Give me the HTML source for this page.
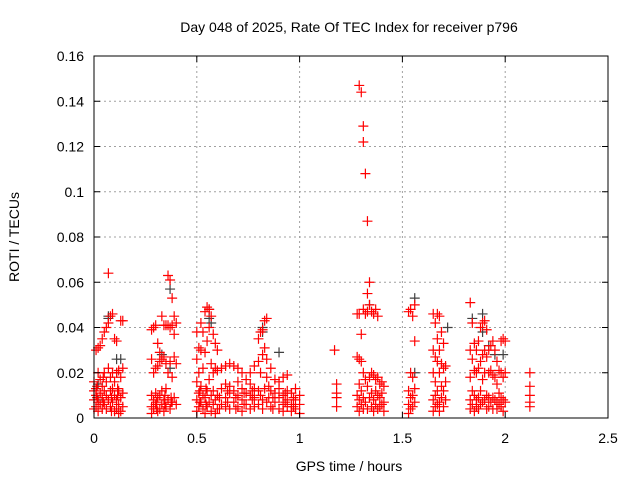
<!DOCTYPE html>
<html><head><meta charset="utf-8"><style>
body{margin:0;background:#fff}
svg{display:block;font-family:"Liberation Sans",sans-serif}
</style></head><body>
<svg id="c" width="640" height="480">
<text x="349" y="32" font-size="14" text-anchor="middle">Day 048 of 2025, Rate Of TEC Index for receiver p796</text>
<text x="349" y="471" font-size="14" text-anchor="middle">GPS time / hours</text>
<text transform="translate(19,237) rotate(-90)" font-size="14" text-anchor="middle">ROTI / TECUs</text>
<g id="grid"></g><g id="pts"></g><g id="axes"></g>
</svg>
<script>
const xTicks=[0,0.5,1,1.5,2,2.5];
const xTickLabels=["0","0.5","1","1.5","2","2.5"];
const yTicks=[0,0.02,0.04,0.06,0.08,0.1,0.12,0.14,0.16];
const yTickLabels=["0","0.02","0.04","0.06","0.08","0.1","0.12","0.14","0.16"];
// columns: [hour, [roti values]]
const blackCols=[[0.02,[0.015,0.008]],[0.07,[0.044,0.045]],[0.11,[0.026,0.02]],[0.13,[0.026]],[0.33,[0.028]],[0.37,[0.057,0.022]],[0.56,[0.044,0.048]],[0.57,[0.042]],[0.82,[0.04,0.038]],[0.9,[0.029]],[1.34,[0.05]],[1.56,[0.053,0.02]],[1.72,[0.04]],[1.84,[0.044]],[1.89,[0.046,0.038]],[1.92,[0.032]],[1.95,[0.028]],[1.99,[0.028]]];
const redCols=[
[0.0,[0.004,0.008,0.012,0.016]],[0.01,[0.03,0.005,0.01,0.013]],[0.02,[0.031,0.007,0.02,0.003]],[0.03,[0.032,0.006,0.011,0.017]],
[0.04,[0.035,0.009,0.014,0.004]],[0.05,[0.038,0.012,0.006,0.02]],[0.06,[0.04,0.01,0.004,0.016]],[0.07,[0.064,0.042,0.008,0.022]],
[0.08,[0.045,0.018,0.005,0.012]],[0.09,[0.046,0.013,0.007,0.02]],[0.1,[0.035,0.01,0.003,0.016]],[0.11,[0.034,0.02,0.008,0.004]],
[0.12,[0.021,0.012,0.006,0.002]],[0.13,[0.043,0.018,0.009,0.003]],[0.14,[0.043,0.022,0.011,0.005]],
[0.28,[0.026,0.01,0.005,0.002,0.039]],[0.29,[0.04,0.02,0.008,0.004]],[0.3,[0.041,0.022,0.006,0.011]],[0.31,[0.033,0.023,0.009,0.003]],
[0.32,[0.029,0.025,0.004,0.01]],[0.33,[0.045,0.026,0.006,0.012]],[0.34,[0.041,0.027,0.008,0.003]],[0.35,[0.041,0.024,0.013,0.005]],
[0.36,[0.063,0.041,0.02,0.008]],[0.37,[0.061,0.04,0.025,0.004]],[0.38,[0.053,0.041,0.018,0.007]],[0.39,[0.045,0.037,0.027,0.009]],[0.4,[0.042,0.024,0.006]],
[0.5,[0.026,0.016,0.008,0.003,0.038]],[0.51,[0.031,0.02,0.005,0.011]],[0.52,[0.042,0.03,0.007,0.014]],[0.53,[0.038,0.022,0.004,0.01]],
[0.54,[0.047,0.029,0.009,0.002]],[0.55,[0.049,0.034,0.012,0.005]],[0.56,[0.048,0.04,0.017,0.007]],[0.57,[0.045,0.024,0.01,0.003]],
[0.58,[0.037,0.02,0.006,0.012]],[0.59,[0.033,0.022,0.008,0.002]],[0.6,[0.03,0.021,0.01,0.004]],[0.62,[0.022,0.013,0.006]],
[0.64,[0.023,0.015,0.005,0.009]],[0.66,[0.024,0.014,0.004,0.011]],[0.68,[0.023,0.012,0.007]],[0.7,[0.022,0.016,0.005,0.01]],
[0.72,[0.02,0.013,0.008,0.003]],[0.74,[0.017,0.011,0.006]],[0.76,[0.015,0.01,0.004,0.02]],[0.78,[0.013,0.009,0.005,0.023]],
[0.8,[0.025,0.012,0.006,0.035]],[0.81,[0.038,0.02,0.01]],[0.82,[0.039,0.028,0.008,0.004]],[0.83,[0.043,0.031,0.013]],
[0.84,[0.044,0.026,0.018,0.007]],[0.86,[0.022,0.012,0.005]],[0.88,[0.011,0.007,0.017]],[0.9,[0.013,0.009,0.004,0.016]],
[0.92,[0.018,0.01,0.006,0.003]],[0.94,[0.019,0.012,0.005,0.008]],[0.96,[0.011,0.006,0.003]],[0.98,[0.013,0.008,0.004]],[1.0,[0.01,0.006,0.002]],
[0.015,[0.009,0.014]],[0.045,[0.007,0.018]],[0.085,[0.009,0.003]],[0.115,[0.013,0.01]],[0.305,[0.007,0.004]],[0.345,[0.006,0.01]],
[0.375,[0.007,0.009]],[0.515,[0.012,0.007]],[0.545,[0.006,0.013]],[0.61,[0.009,0.004]],[0.65,[0.007,0.012]],[0.69,[0.009,0.004]],
[0.73,[0.011,0.006]],[0.77,[0.008,0.012]],[0.85,[0.009,0.014]],[0.87,[0.009,0.004]],[0.93,[0.007,0.011]],[0.97,[0.009,0.005]],
[1.17,[0.03]],[1.18,[0.015,0.011,0.009,0.005]],
[1.28,[0.046,0.027,0.01,0.005]],[1.29,[0.147,0.046,0.026,0.015,0.008,0.003]],[1.3,[0.144,0.037,0.025,0.012,0.006]],
[1.31,[0.129,0.122,0.048,0.02,0.009,0.004]],[1.32,[0.108,0.046,0.017,0.007]],[1.33,[0.087,0.055,0.047,0.014,0.004]],
[1.34,[0.06,0.05,0.018,0.009]],[1.35,[0.047,0.02,0.011,0.005]],[1.36,[0.046,0.019,0.008,0.003]],[1.37,[0.048,0.017,0.012,0.006]],
[1.38,[0.045,0.018,0.01,0.004]],[1.39,[0.015,0.009,0.005]],[1.4,[0.016,0.011,0.006]],[1.41,[0.014,0.007,0.003]],
[1.53,[0.047,0.012,0.006,0.002]],[1.54,[0.048,0.02,0.009,0.004]],[1.55,[0.045,0.018,0.01,0.005]],[1.56,[0.05,0.034,0.013,0.007]],
[1.65,[0.046,0.03,0.02,0.008,0.003]],[1.66,[0.042,0.027,0.016,0.01,0.005]],[1.67,[0.046,0.035,0.025,0.012,0.006]],
[1.68,[0.045,0.03,0.02,0.007,0.003]],[1.69,[0.038,0.024,0.014,0.009]],[1.7,[0.033,0.022,0.012,0.005]],[1.71,[0.023,0.016,0.008]],
[1.83,[0.051,0.03,0.018,0.008,0.004]],[1.84,[0.042,0.026,0.012,0.006]],[1.85,[0.033,0.021,0.01,0.003]],[1.86,[0.03,0.02,0.008,0.005]],
[1.87,[0.034,0.022,0.009,0.004]],[1.88,[0.04,0.025,0.012,0.006]],[1.89,[0.042,0.028,0.017,0.007]],[1.9,[0.043,0.03,0.02,0.008]],
[1.91,[0.039,0.027,0.01,0.004]],[1.92,[0.03,0.02,0.009,0.005]],[1.93,[0.032,0.021,0.007]],[1.94,[0.034,0.019,0.009,0.004]],
[1.95,[0.03,0.018,0.008]],[1.96,[0.025,0.015,0.007,0.004]],[1.97,[0.021,0.011,0.006]],[1.98,[0.034,0.02,0.009,0.005]],
[1.99,[0.035,0.018,0.008,0.003]],[2.0,[0.034,0.02,0.007]],[2.12,[0.02,0.014,0.01,0.007,0.005]]];
const X0=94,X1=608,Y0=418,Y1=56;
const sx=v=>X0+(v-0)/(2.5)*(X1-X0);
const sy=v=>Y0-(v-0)/(0.16)*(Y0-Y1);
const NS="http://www.w3.org/2000/svg";
function mk(t,a,p){const e=document.createElementNS(NS,t);for(const k in a)e.setAttribute(k,a[k]);p.appendChild(e);return e;}
const grid=document.getElementById('grid'),axes=document.getElementById('axes'),pts=document.getElementById('pts');
xTicks.forEach((t,i)=>{const x=sx(t);
 if(i>0&&i<xTicks.length-1){const g=mk('line',{x1:x,x2:x,y1:Y1,y2:Y0,stroke:'#a0a0a0','stroke-dasharray':'2,3'},grid);
 
 }
 mk('line',{x1:x,x2:x,y1:Y0,y2:Y0-6,stroke:'#000'},axes);mk('line',{x1:x,x2:x,y1:Y1,y2:Y1+6,stroke:'#000'},axes);
 const l=mk('text',{x:x,y:Y0+25,'font-size':14,'text-anchor':'middle'},axes);l.textContent=xTickLabels[i];
 
 });
yTicks.forEach((t,i)=>{const y=sy(t);
 if(i>0&&i<yTicks.length-1){const g=mk('line',{x1:X0,x2:X1,y1:y,y2:y,stroke:'#a0a0a0','stroke-dasharray':'2,3'},grid);
 
 }
 mk('line',{x1:X0,x2:X0+6,y1:y,y2:y,stroke:'#000'},axes);mk('line',{x1:X1,x2:X1-6,y1:y,y2:y,stroke:'#000'},axes);
 const l=mk('text',{x:X0-10,y:y+5,'font-size':14,'text-anchor':'end'},axes);l.textContent=yTickLabels[i];
 
 });
const fr=mk('rect',{x:X0,y:Y1,width:X1-X0,height:Y0-Y1,fill:'none',stroke:'#000'},axes);


function plus(x,y,c,name){const p=mk('path',{d:`M${x-5},${y}h10M${x},${y-5}v10`,stroke:c,'stroke-width':1.2},pts);
 
 }
blackCols.forEach(([h,ys])=>ys.forEach(v=>plus(sx(h),sy(v),'#404040','black-point')));
redCols.forEach(([h,ys])=>ys.forEach(v=>plus(sx(h),sy(v),'#ff0000','red-point')));
</script>
</body></html>
